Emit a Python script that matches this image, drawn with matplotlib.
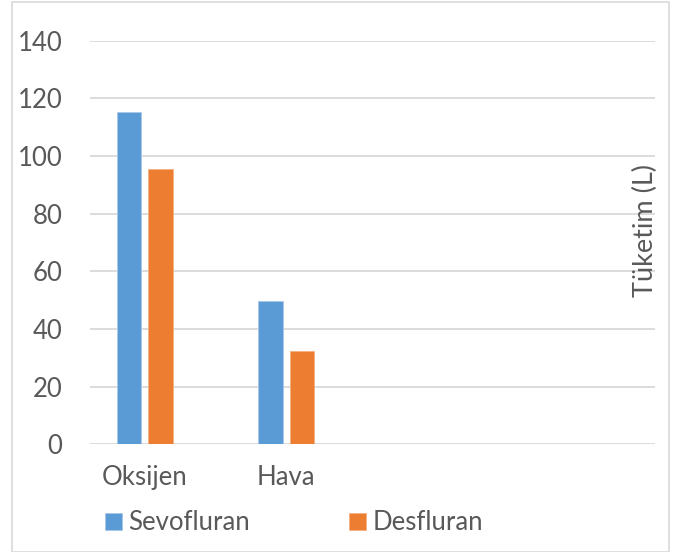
import matplotlib.pyplot as plt
from matplotlib.patches import Rectangle
import numpy as np

categories = ["Oksijen", "Hava"]
sevofluran = [115.1, 49.7]
desfluran = [95.6, 32.4]
y_ticks = [0, 20, 40, 60, 80, 100, 120, 140]

blue = "#5B9BD5"
orange = "#ED7D31"
text_col = "#595959"
grid_col = "#D9D9D9"

plt.rcParams['font.family'] = ['Lato', 'DejaVu Sans']
fs = 18.5

fig = plt.figure(figsize=(6.75, 5.52), dpi=100)
ax = fig.add_axes([90 / 675, 1 - 444.3 / 552, 565 / 675, 403.6 / 552])

x = np.arange(len(categories))
w = 0.174
off = 0.111
ax.bar(x - off, sevofluran, w, color=blue, edgecolor="#A9C8EA", linewidth=0.6,
       label="Sevofluran", zorder=3)
ax.bar(x + off, desfluran, w, color=orange, edgecolor="#F4B183", linewidth=0.6,
       label="Desfluran", zorder=3)

ax.set_xlim(-0.387, 3.607)
ax.set_ylim(0, 140)
ax.set_yticks(y_ticks)
ax.set_xticks(x)
ax.set_xticklabels(categories)
ax.grid(axis='y', color=grid_col, linewidth=1.3, zorder=0)
for s in ax.spines.values():
    s.set_visible(False)
ax.tick_params(axis='both', length=0, labelsize=fs, colors=text_col)
ax.tick_params(axis='y', pad=20)
ax.tick_params(axis='x', pad=15)

fig.text(645 / 675, 1 - 230 / 552, "Tüketim (L)", rotation=90, ha='center',
         va='center', fontsize=19.5, color=text_col)

fig.legend(loc='center left', bbox_to_anchor=(105 / 675, 1 - 523 / 552), ncol=2,
           frameon=False, fontsize=fs, labelcolor=text_col, handlelength=0.66,
           handleheight=0.66, handletextpad=0.25, columnspacing=3.85,
           borderaxespad=0, borderpad=0)

fig.patches.append(Rectangle((11.5 / 675, 0.5 / 552), 657.5 / 675, 550 / 552,
                             transform=fig.transFigure, fill=False,
                             edgecolor=grid_col, linewidth=1.2))

fig.savefig("out.png", dpi=100)
